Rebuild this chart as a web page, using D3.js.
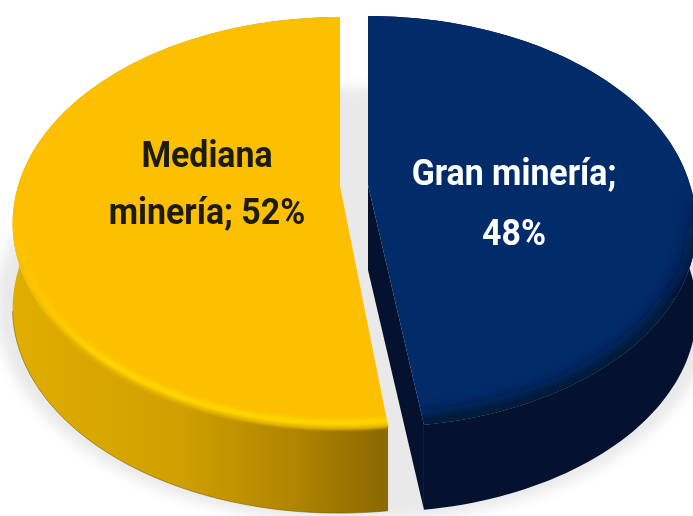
<!DOCTYPE html>
<html lang="es">
<head>
<meta charset="utf-8">
<style>
  html, body { margin: 0; padding: 0; background: #fff; }
  svg { display: block; }
  text { font-family: "Roboto", sans-serif; font-weight: 700; text-anchor: middle; }
</style>
<script src="https://cdn.jsdelivr.net/npm/d3@7/dist/d3.min.js"></script>
</head>
<body>
<svg id="chart" width="693" height="516"></svg>
<script>
// Participación por segmento de minería
const categories = ["Gran minería", "Mediana minería"];
const shares = [48, 52];
const labelLines = [["Gran minería;", "48%"], ["Mediana", "minería; 52%"]];
const faceColors = ["#012b69", "#fdc000"];
const labelColors = ["#ffffff", "#1d1a08"];

// Perspective projection of the unit disc onto the page
const Rx = 322, Ry = 199, persp = 0.178, depth = 85;
const placement = [
  { cx: 368, ay: 185, lean: 7 },
  { cx: 340, ay: 186, lean: -1 }
];
const labelPos = [[514, [185, 245]], [207, [167, 224]]];
const condensed = 0.915;

function project(angle, p, radius = 1, dy = 0) {
  const s = Math.sin(angle) * radius, c = Math.cos(angle) * radius;
  const w = 1 + persp * c;
  return [
    p.cx + Rx * s / w + p.lean * Math.max(0, -c),
    p.ay + dy - Ry * c / w
  ];
}
const arcPoints = (a0, a1, p, radius, dy) =>
  d3.range(0, 121).map(i => project(a0 + (a1 - a0) * i / 120, p, radius, dy));

const svg = d3.select("#chart");
const defs = svg.append("defs");
const blur = (id, sd) => defs.append("filter").attr("id", id)
  .attr("x", "-20%").attr("y", "-20%").attr("width", "140%").attr("height", "140%")
  .append("feGaussianBlur").attr("stdDeviation", sd);
blur("soft", 6); blur("rim", 2); blur("seam", 1.2); blur("edge", 8); blur("text", 0.35);

const gradient = (id, [x1, y1, x2, y2], stops) => {
  const grad = defs.append("linearGradient").attr("id", id)
    .attr("gradientUnits", "userSpaceOnUse")
    .attr("x1", x1).attr("y1", y1).attr("x2", x2).attr("y2", y2);
  stops.forEach(([o, c, a = 1]) => grad.append("stop")
    .attr("offset", o).attr("stop-color", c).attr("stop-opacity", a));
};
gradient("wallGold", [15, 0, 388, 0],
  [[0, "#e0ae00"], [0.45, "#cf9f00"], [0.75, "#b08500"], [1, "#8a6800"]]);
gradient("rimGold", [15, 0, 110, 0],
  [[0, "#ffe000", 0], [1, "#ffe000", 1]]);
gradient("seamGold", [15, 0, 70, 0],
  [[0, "#e2b000", 0], [1, "#e2b000", 1]]);
gradient("shadeNavy", [0, 190, 0, 300],
  [[0, "#04122f", 0], [1, "#04122f", 1]]);

const line = d3.line();
const slices = d3.pie().sort(null).value(d => d)(shares);
const wallFill = ["#04122f", "url(#wallGold)"];

// Soft ground shadow running beneath both slices and across the gap between them
const shadowOutline = slices.flatMap((d, i) =>
  arcPoints(d.startAngle, d.endAngle, placement[i], 1.05, 78));
svg.append("path").attr("d", line(shadowOutline) + "Z")
  .attr("fill", "#b9b9b9").attr("opacity", 0.3).attr("filter", "url(#soft)");

slices.forEach((d, i) => {
  const p = placement[i];
  const top = arcPoints(d.startAngle, d.endAngle, p, 1, 0);
  const bottom = arcPoints(d.startAngle, d.endAngle, p, 1, depth);
  const apex = project(0, p, 0, 0);
  const g = svg.append("g").attr("class", "slice").datum(categories[i]);

  // Side wall following the rim, with a thin darker lower edge
  g.append("path").attr("d", line([...top, ...[...bottom].reverse()]) + "Z").attr("fill", wallFill[i]);
  if (i === 1) {
    g.append("path").attr("d", line(arcPoints(d.startAngle, d.startAngle + 1.5, p, 1, depth)))
      .attr("fill", "none").attr("stroke", "#7a5c00").attr("stroke-width", 1).attr("opacity", 0.6);
  }

  // Cut wall, visible on the slice that opens to the left
  if (i === 0) {
    const corner = project(d.endAngle, p);
    g.append("path").attr("fill", wallFill[i]).attr("d", line([
      apex, [apex[0], apex[1] + depth], [corner[0], corner[1] + depth], corner
    ]) + "Z");
  }

  // Top face
  const facePath = line([apex, ...top]) + "Z";
  g.append("path").attr("d", facePath).attr("fill", faceColors[i]);

  // Shaded band on the navy face; soft seam and lit rim on the gold one
  if (i === 0) {
    const clipId = "faceClip" + i;
    defs.append("clipPath").attr("id", clipId).append("path").attr("d", facePath);
    const rimEdge = arcPoints(d.startAngle + 1.3, d.endAngle, p, 1, 0);
    const beyondRim = arcPoints(d.startAngle + 1.3, d.endAngle, p, 1.1, 0).reverse();
    g.append("g").attr("clip-path", `url(#${clipId})`).append("path")
      .attr("d", line([...rimEdge, ...beyondRim]) + "Z")
      .attr("fill", "url(#shadeNavy)")
      .attr("stroke", "url(#shadeNavy)")
      .attr("stroke-width", 18).attr("filter", "url(#edge)");
  } else {
    g.append("path").attr("d", line(arcPoints(d.startAngle, d.startAngle + 1.45, p, 1, 0)))
      .attr("fill", "none").attr("stroke", "url(#seamGold)")
      .attr("stroke-width", 4).attr("filter", "url(#seam)");
    g.append("path").attr("d", line(arcPoints(d.startAngle, d.startAngle + 1.45, p, 0.982, 0)))
      .attr("fill", "none").attr("stroke", "url(#rimGold)")
      .attr("stroke-width", 4).attr("filter", "url(#rim)");
  }
});

// Data labels
labelLines.forEach((lines, i) => {
  const [x, ys] = labelPos[i];
  lines.forEach((t, j) => {
    svg.append("text")
      .attr("transform", `translate(${x},${ys[j]}) scale(${condensed},1)`)
      .attr("font-size", 37).attr("fill", labelColors[i])
      .attr("filter", "url(#text)").text(t);
  });
});
</script>
</body>
</html>
